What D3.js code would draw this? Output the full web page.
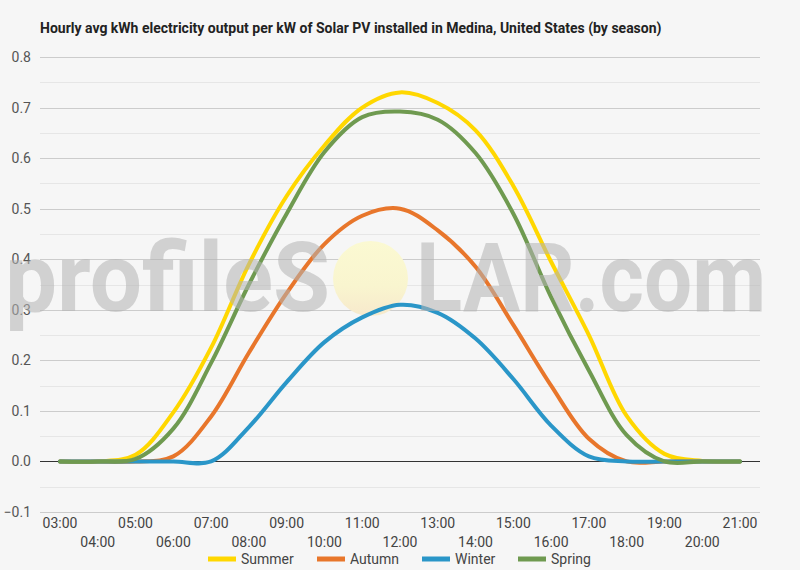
<!DOCTYPE html>
<html>
<head>
<meta charset="utf-8">
<script src="https://cdn.jsdelivr.net/npm/d3@7/dist/d3.min.js"></script>
<style>
  html, body { margin: 0; padding: 0; background: #f6f6f6; }
  svg { display: block; }
  text { font-family: Roboto, "Noto Sans", sans-serif; }
</style>
</head>
<body>
<svg id="chart" width="800" height="570"></svg>
<script>
const hours = ["03:00","04:00","05:00","06:00","07:00","08:00","09:00","10:00","11:00","12:00","13:00","14:00","15:00","16:00","17:00","18:00","19:00","20:00","21:00"];
const summer = [0, 0, 0.013, 0.097, 0.225, 0.39, 0.525, 0.625, 0.70, 0.73, 0.709, 0.655, 0.545, 0.395, 0.25, 0.09, 0.015, 0.001, 0];
const autumn = [0, 0, 0, 0.01, 0.089, 0.215, 0.333, 0.43, 0.486, 0.5, 0.457, 0.385, 0.27, 0.15, 0.045, 0, 0, 0, 0];
const winter = [0, 0, 0, 0, 0, 0.068, 0.157, 0.236, 0.285, 0.31, 0.294, 0.243, 0.163, 0.071, 0.01, 0, 0, 0, 0];
const spring = [0, 0, 0.005, 0.065, 0.195, 0.35, 0.49, 0.612, 0.681, 0.692, 0.676, 0.61, 0.49, 0.325, 0.18, 0.052, 0, 0, 0];
const seriesNames = ["Summer","Autumn","Winter","Spring"];
const seriesColors = ["#FFD700","#E8762B","#2A96C8","#6F9A50"];
const yTicks = [-0.1, 0, 0.1, 0.2, 0.3, 0.4, 0.5, 0.6, 0.7, 0.8];
const yMinor = [-0.05, 0.05, 0.15, 0.25, 0.35, 0.45, 0.55, 0.65, 0.75];
const title = "Hourly avg kWh electricity output per kW of Solar PV installed in Medina, United States (by season)";

const seriesValues = [summer, autumn, winter, spring];
const svg = d3.select("#chart");
const W = 800, H = 570;
svg.append("rect").attr("width", W).attr("height", H).attr("fill", "#f6f6f6");

const plotL = 40, plotR = 760;
const x = d3.scalePoint().domain(hours).range([60, 740]);
const y = d3.scaleLinear().domain([-0.1, 0.8]).range([512, 57]);

// title
svg.append("text").attr("x", 40).attr("y", 33)
  .attr("font-size", 14).attr("font-weight", "bold").attr("fill", "#222")
  .text(title);

// minor gridlines
svg.append("g").selectAll("line").data(yMinor).join("line")
  .attr("x1", plotL).attr("x2", plotR)
  .attr("y1", d => Math.round(y(d)) + 0.5).attr("y2", d => Math.round(y(d)) + 0.5)
  .attr("stroke", "#e6e6e6").attr("stroke-width", 1);

// major gridlines
svg.append("g").selectAll("line").data(yTicks.filter(d => d !== 0)).join("line")
  .attr("x1", plotL).attr("x2", plotR)
  .attr("y1", d => Math.round(y(d)) + 0.5).attr("y2", d => Math.round(y(d)) + 0.5)
  .attr("stroke", "#cccccc").attr("stroke-width", 1);

// y axis labels
const yAxis = d3.axisLeft(y).tickValues(yTicks).tickSize(0).tickPadding(0)
  .tickFormat(d3.format(".1f"));
const yg = svg.append("g").attr("transform", "translate(31,0)").call(yAxis);
yg.select(".domain").remove();
yg.selectAll("text").attr("font-size", 14).attr("fill", "#555")
  .attr("font-family", "Roboto, sans-serif");

// zero line
svg.append("line").attr("x1", plotL).attr("x2", plotR)
  .attr("y1", Math.round(y(0)) + 0.5).attr("y2", Math.round(y(0)) + 0.5)
  .attr("stroke", "#333").attr("stroke-width", 1);

// x axis labels (staggered)
const xg = svg.append("g");
xg.selectAll("text").data(hours).join("text")
  .attr("x", d => x(d))
  .attr("y", (d, i) => i % 2 === 0 ? 528 : 547)
  .attr("text-anchor", "middle")
  .attr("font-size", 14).attr("fill", "#444")
  .text(d => d);

// sun circle of watermark (under lines)
const defs = svg.append("defs");
const grad = defs.append("linearGradient").attr("id", "sunGrad")
  .attr("x1", 0).attr("y1", 0).attr("x2", 0).attr("y2", 1);
grad.append("stop").attr("offset", "0%").attr("stop-color", "#fbf9d2");
grad.append("stop").attr("offset", "60%").attr("stop-color", "#f9f5cf");
grad.append("stop").attr("offset", "100%").attr("stop-color", "#f7e9cc");
svg.append("circle").attr("cx", 370.5).attr("cy", 278.5).attr("r", 37.5)
  .attr("fill", "url(#sunGrad)");

// lines
const line = d3.line()
  .x((d, i) => x(hours[i]))
  .y(d => y(d))
  .curve(d3.curveCatmullRom.alpha(0.5));

svg.append("g").selectAll("path").data(seriesValues).join("path")
  .attr("d", d => line(d))
  .attr("fill", "none")
  .attr("stroke", (d, i) => seriesColors[i])
  .attr("stroke-width", 4)
  .attr("stroke-linejoin", "round")
  .attr("stroke-linecap", "round");

// watermark text (over lines)
const wm = svg.append("g").attr("opacity", 0.55).attr("fill", "#b4b4b4")
  .attr("font-family", "'Liberation Sans', Arial, sans-serif").attr("font-size", 96)
  .attr("font-weight", "bold");
wm.append("text").attr("x", 5).attr("y", 311)
  .attr("textLength", 325).attr("lengthAdjust", "spacingAndGlyphs")
  .text("profileS");
wm.append("text").attr("x", 416).attr("y", 311)
  .attr("textLength", 350).attr("lengthAdjust", "spacingAndGlyphs")
  .text("LAR.com");

// legend
const legendX = [208, 317, 422, 518];
const lg = svg.append("g");
seriesNames.forEach((name, i) => {
  lg.append("rect").attr("x", legendX[i]).attr("y", 556.5).attr("width", 28).attr("height", 5)
    .attr("fill", seriesColors[i]);
  lg.append("text").attr("x", legendX[i] + 33).attr("y", 563.5)
    .attr("font-size", 14).attr("fill", "#444").text(name);
});
</script>
</body>
</html>
